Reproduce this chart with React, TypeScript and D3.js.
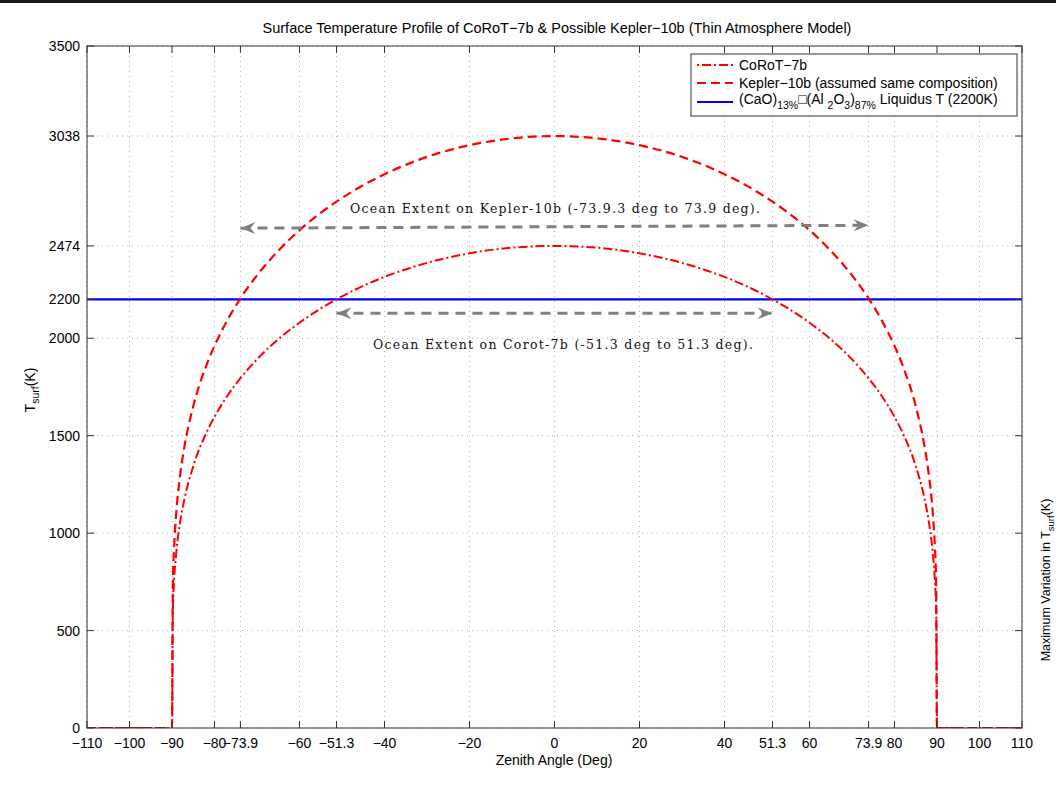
import React from "react";
import * as d3 from "d3";

const xTicks = [-110, -100, -90, -80, -73.9, -60, -51.3, -40, -20, 0, 20, 40, 51.3, 60, 73.9, 80, 90, 100, 110];
const yTicks = [0, 500, 1000, 1500, 2000, 2200, 2474, 3038, 3500];

const angles = [-110, -100, -90, -89.8, -89.5, -89, -88, -87, -85, -82, -80, -77, -73.9, -70, -65, -60, -55, -51.3, -45, -40, -30, -20, -10, 0,
  10, 20, 30, 40, 45, 51.3, 55, 60, 65, 70, 73.9, 77, 80, 82, 85, 87, 88, 89, 89.5, 89.8, 90, 100, 110];
const keplerT = [0, 0, 0, 738, 928, 1104, 1313, 1453, 1651, 1856, 1961, 2092, 2205, 2323, 2449, 2555, 2644, 2701, 2786, 2842, 2931, 2991, 3026, 3038,
  3026, 2991, 2931, 2842, 2786, 2701, 2644, 2555, 2449, 2323, 2205, 2092, 1961, 1856, 1651, 1453, 1313, 1104, 928, 738, 0, 0, 0];
const corotT = [0, 0, 0, 601, 756, 899, 1069, 1183, 1344, 1511, 1597, 1704, 1795, 1892, 1995, 2080, 2153, 2200, 2269, 2315, 2387, 2436, 2465, 2474,
  2465, 2436, 2387, 2315, 2269, 2200, 2153, 2080, 1995, 1892, 1795, 1704, 1597, 1511, 1344, 1183, 1069, 899, 756, 601, 0, 0, 0];
const liquidusT = 2200;

const keplerArrow = { x0: -73.9, y0: 2565, x1: 73.9, y1: 2580 };
const corotArrow = { x0: -51.3, y0: 2128, x1: 51.3, y1: 2128 };

const title = "Surface Temperature Profile of CoRoT\u22127b & Possible Kepler\u221210b (Thin Atmosphere Model)";
const keplerNote = "Ocean Extent on Kepler-10b (-73.9.3 deg to 73.9 deg).";
const corotNote = "Ocean Extent on Corot-7b (-51.3 deg to 51.3 deg).";

const W = 1056, H = 786;
const L = 87, R = 1022, T = 46, B = 728;
const SANS = "'Liberation Sans', Arial, Helvetica, sans-serif";
const SERIF = "'DejaVu Serif', 'Liberation Serif', serif";

function fmt(v: number) {
  const s = String(Math.abs(v));
  return v < 0 ? "\u2212" + s : s;
}

export default function App() {
  const x = d3.scaleLinear().domain([-110, 110]).range([L, R]);
  const y = d3.scaleLinear().domain([0, 3500]).range([B, T]);
  const line = d3.line<number>().x((_, i) => x(angles[i])).y((d) => y(d)).curve(d3.curveMonotoneX);
  const gray = "#808080";

  return (
    <svg width={W} height={H} style={{ position: "absolute", left: 0, top: 0, background: "#fff" }}>
      <defs>
        <clipPath id="plotclip">
          <rect x={L} y={T} width={R - L} height={B - T} />
        </clipPath>
        <marker id="ah" viewBox="-16 -8 18 16" refX={0} refY={0} markerWidth={18} markerHeight={16} markerUnits="userSpaceOnUse" orient="auto-start-reverse">
          <path d="M0,0 L-15,-6 L-10,0 L-15,6 Z" fill={gray} />
        </marker>
      </defs>
      <rect x={0} y={0} width={W} height={H} fill="#fff" />
      <rect x={0} y={0} width={W} height={3} fill="#1a1612" />

      {/* grid */}
      {xTicks.map((t) => (
        <line key={"gx" + t} x1={x(t)} x2={x(t)} y1={T} y2={B} stroke="#b0b0b0" strokeWidth={1} strokeDasharray="1,4" />
      ))}
      {yTicks.map((t) => (
        <line key={"gy" + t} x1={L} x2={R} y1={y(t)} y2={y(t)} stroke="#b0b0b0" strokeWidth={1} strokeDasharray="1,4" />
      ))}

      {/* curves */}
      <g clipPath="url(#plotclip)">
        <line x1={L} x2={R} y1={y(liquidusT)} y2={y(liquidusT)} stroke="#0000ff" strokeWidth={2.2} />
        <path d={line(corotT) || ""} fill="none" stroke="#ff0000" strokeWidth={2} strokeDasharray="9,3,2,3" />
        <path d={line(keplerT) || ""} fill="none" stroke="#ff0000" strokeWidth={2.2} strokeDasharray="9,5" />
      </g>

      {/* frame and ticks */}
      <rect x={L} y={T} width={R - L} height={B - T} fill="none" stroke="#333" strokeWidth={1} />
      {xTicks.map((t) => (
        <g key={"tx" + t}>
          <line x1={x(t)} x2={x(t)} y1={B} y2={B - 7} stroke="#333" />
          <line x1={x(t)} x2={x(t)} y1={T} y2={T + 7} stroke="#333" />
          <text x={x(t)} y={748} textAnchor="middle" fontFamily={SANS} fontSize={14} fill="#000">{fmt(t)}</text>
        </g>
      ))}
      {yTicks.map((t) => (
        <g key={"ty" + t}>
          <line x1={L} x2={L + 7} y1={y(t)} y2={y(t)} stroke="#333" />
          <line x1={R} x2={R - 7} y1={y(t)} y2={y(t)} stroke="#333" />
          <text x={80} y={y(t) + 5} textAnchor="end" fontFamily={SANS} fontSize={14} fill="#000">{fmt(t)}</text>
        </g>
      ))}

      {/* labels */}
      <text x={557} y={33} textAnchor="middle" fontFamily={SANS} fontSize={14.5} fill="#000">{title}</text>
      <text x={554} y={765} textAnchor="middle" fontFamily={SANS} fontSize={14} fill="#000">Zenith Angle (Deg)</text>
      <text transform="translate(35,390) rotate(-90)" textAnchor="middle" fontFamily={SANS} fontSize={14} fill="#000">
        T<tspan fontSize={10.5} dy={4}>surf</tspan><tspan dy={-4}>(K)</tspan>
      </text>
      <text transform="translate(1050,580) rotate(-90)" textAnchor="middle" fontFamily={SANS} fontSize={12.5} fill="#000">
        Maximum Variation in T<tspan fontSize={9.5} dy={4}>surf</tspan><tspan dy={-4}>(K)</tspan>
      </text>

      {/* annotations */}
      <line x1={x(keplerArrow.x0)} y1={y(keplerArrow.y0)} x2={x(keplerArrow.x1)} y2={y(keplerArrow.y1)} stroke={gray} strokeWidth={3}
        strokeDasharray="10,7" markerStart="url(#ah)" markerEnd="url(#ah)" />
      <line x1={x(corotArrow.x0)} y1={y(corotArrow.y0)} x2={x(corotArrow.x1)} y2={y(corotArrow.y1)} stroke={gray} strokeWidth={3}
        strokeDasharray="10,7" markerStart="url(#ah)" markerEnd="url(#ah)" />
      <text x={555} y={213} textAnchor="middle" fontFamily={SERIF} fontSize={12.5} fill="#111" textLength={410} lengthAdjust="spacing">{keplerNote}</text>
      <text x={563} y={349} textAnchor="middle" fontFamily={SERIF} fontSize={12.5} fill="#111" textLength={380} lengthAdjust="spacing">{corotNote}</text>

      {/* legend */}
      <g>
        <rect x={691} y={54} width={326} height={62} fill="#fff" stroke="#333" strokeWidth={1} />
        <line x1={697} x2={733} y1={65} y2={65} stroke="#ff0000" strokeWidth={2} strokeDasharray="2,3,9,3" />
        <text x={739} y={70} fontFamily={SANS} fontSize={14} fill="#000">CoRoT{"\u2212"}7b</text>
        <line x1={697} x2={733} y1={83} y2={83} stroke="#ff0000" strokeWidth={2.2} strokeDasharray="9,5" />
        <text x={739} y={88} fontFamily={SANS} fontSize={14} fill="#000">Kepler{"\u2212"}10b (assumed same composition)</text>
        <line x1={697} x2={733} y1={102} y2={102} stroke="#0000ff" strokeWidth={2.2} />
        <text x={739} y={104} fontFamily={SANS} fontSize={14} fill="#000">
          (CaO)<tspan fontSize={10.5} dy={5}>13%</tspan><tspan dy={-5}>{"\u25A1"}(Al </tspan><tspan fontSize={10.5} dy={5}>2</tspan><tspan dy={-5}>O</tspan><tspan fontSize={10.5} dy={5}>3</tspan><tspan dy={-5}>)</tspan><tspan fontSize={10.5} dy={5}>87%</tspan><tspan dy={-5}> Liquidus T (2200K)</tspan>
        </text>
      </g>
    </svg>
  );
}
